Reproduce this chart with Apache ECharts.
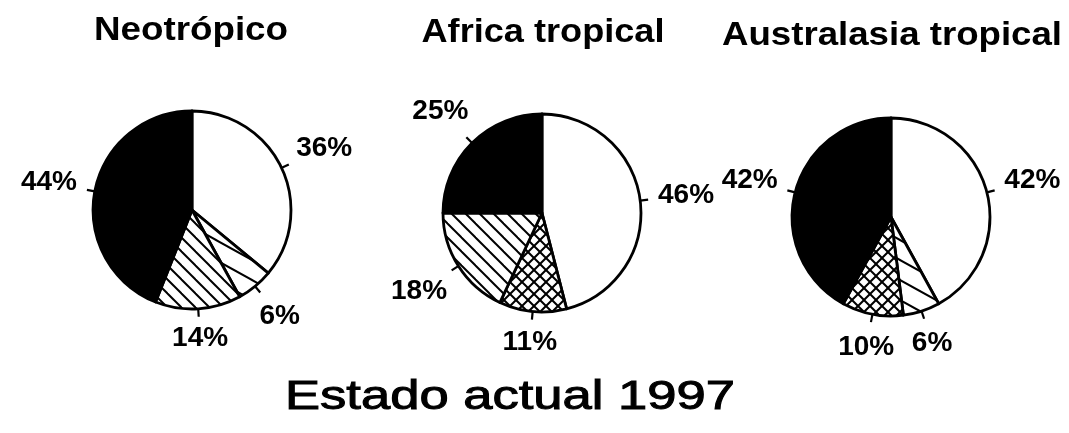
<!DOCTYPE html>
<html><head><meta charset="utf-8">
<script src="https://cdn.jsdelivr.net/npm/echarts@6/dist/echarts.min.js"></script>
<style>html,body{margin:0;padding:0;background:#fff}#c{width:1069px;height:433px}</style>
</head><body><div id="c"></div>
<script>
// ---- data ----
const regions = ['Neotrópico', 'Africa tropical', 'Australasia tropical'];
const categories = ['blanco', 'rayado ralo', 'cuadriculado', 'rayado', 'negro'];
const neotropico = [36, 6, 0, 14, 44];
const africa = [46, 0, 11, 18, 25];
const australasia = [42, 6, 10, 0, 42];
const mainTitle = 'Estado actual 1997';

// ---- patterns ----
function tile(w, h, draw) {
  const c = document.createElement('canvas'); c.width = w; c.height = h;
  const g = c.getContext('2d');
  g.fillStyle = '#fff'; g.fillRect(0, 0, w, h);
  g.strokeStyle = '#000'; g.lineWidth = 2;
  draw(g, w, h); return c;
}
function back(g, w, h) { // '\' lines
  for (let k = -2; k <= 2; k++) { g.beginPath(); g.moveTo(-w, k * h - h); g.lineTo(2 * w, k * h + 2 * h); g.stroke(); }
}
function fwd(g, w, h) { // '/' lines
  for (let k = -2; k <= 2; k++) { g.beginPath(); g.moveTo(-w, k * h + h); g.lineTo(2 * w, k * h - 2 * h); g.stroke(); }
}
const fills = [
  '#ffffff',
  { image: tile(36, 20, back), repeat: 'repeat' },
  { image: tile(12, 12, (g, w, h) => { back(g, w, h); fwd(g, w, h); }), repeat: 'repeat' },
  { image: tile(14, 14, back), repeat: 'repeat' },
  '#000000'
];

function radialLayout(params) {
  const pts = params.labelLinePoints;
  if (!pts) return {};
  const p0 = pts[0], p1 = pts[1];
  let dx = p1[0] - p0[0], dy = p1[1] - p0[1];
  const L = Math.hypot(dx, dy) || 1; dx /= L; dy /= L;
  const w = params.labelRect.width, h = params.labelRect.height * 0.8;
  const ext = Math.abs(dx) * w / 2 + Math.abs(dy) * h / 2 + 9;
  return {
    x: p1[0] + dx * ext, y: p1[1] + dy * ext, align: 'center', verticalAlign: 'middle',
    labelLinePoints: [[p0[0] - dx * 4, p0[1] - dy * 4], [p1[0], p1[1]], [p1[0], p1[1]]]
  };
}

function pie(values, center) {
  return {
    type: 'pie', center: center, radius: 99, startAngle: 90, clockwise: true,
    silent: true, animation: false, avoidLabelOverlap: false,
    data: values.map((v, i) => ({ value: v, name: categories[i], itemStyle: { color: fills[i] } })).filter(d => d.value > 0),
    itemStyle: { borderColor: '#000', borderWidth: 2.8 },
    label: { show: true, position: 'outside', formatter: '{c}%', fontFamily: 'Liberation Sans', fontWeight: 'bold', fontSize: 28, color: '#000' },
    labelLine: { show: true, length: 8, length2: 0, lineStyle: { color: '#000', width: 2.2 } },
    labelLayout: radialLayout
  };
}

function fitScale(text, font, target) {
  const g = document.createElement('canvas').getContext('2d'); g.font = font;
  return target / g.measureText(text).width;
}
const tFont = 'bold 33px "Liberation Sans"';
const bFont = 'normal 41px "Liberation Sans"';
function ttl(text, x, y, font, target, sw) {
  return { type: 'text', x: x, y: y, scaleX: fitScale(text, font, target), silent: true,
    style: { text: text, font: font, fill: '#000', stroke: sw ? '#000' : null, lineWidth: sw || 0, align: 'center', verticalAlign: 'middle' } };
}

const chart = echarts.init(document.getElementById('c'), null, { renderer: 'canvas' });
chart.setOption({
  backgroundColor: '#fff',
  animation: false,
  series: [
    pie(neotropico, [192, 210]),
    pie(africa, [542, 213]),
    pie(australasia, [891, 217])
  ],
  graphic: [
    ttl(regions[0], 191, 31, tFont, 194),
    ttl(regions[1], 543, 33, tFont, 243),
    ttl(regions[2], 892, 36, tFont, 340),
    ttl(mainTitle, 510, 398, bFont, 450, 1)
  ]
});
</script></body></html>
